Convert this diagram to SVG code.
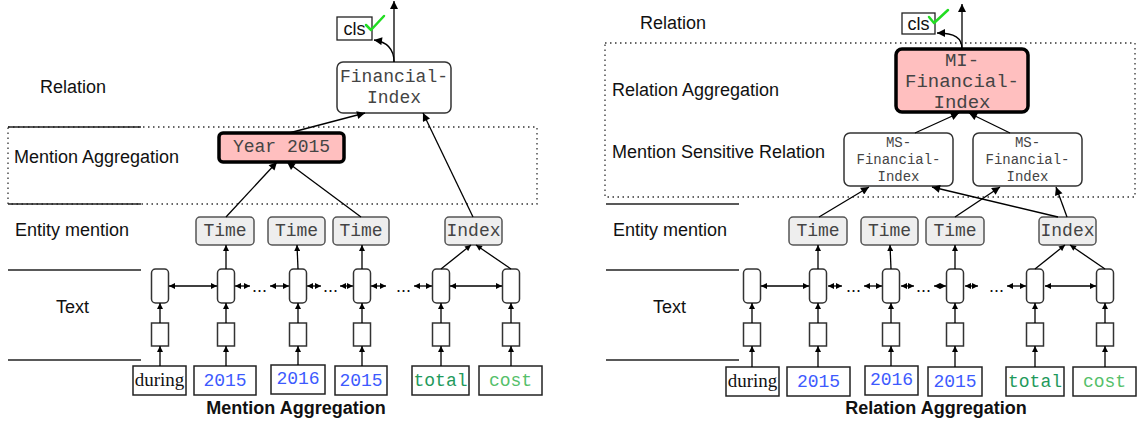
<svg xmlns="http://www.w3.org/2000/svg" width="1138" height="424" viewBox="0 0 1138 424">
<style>
.lbl{font-family:"Liberation Sans",Arial,sans-serif;font-size:18px;fill:#111}
.cap{font-family:"Liberation Sans",Arial,sans-serif;font-size:18px;font-weight:bold;fill:#111;text-anchor:middle}
.mono{font-family:"Liberation Mono","Courier New",monospace;fill:#444;text-anchor:middle}
.m18{font-size:18px}
.m20{font-size:19px}
.m14{font-size:14px}
.during{font-family:"Liberation Serif","Times New Roman",serif;font-size:19px;fill:#111;text-anchor:middle}
.blue{fill:#3d5afe}
.teal{fill:#1f9a5c}
.lg{fill:#55c06a}
.cell{fill:#fff;stroke:#333;stroke-width:1.5}
.word{fill:#fff;stroke:#222;stroke-width:1.5}
.ent{fill:#eee;stroke:#555;stroke-width:1.5}
.rel{fill:#fff;stroke:#333;stroke-width:1.5}
.agg{fill:#ffbfbf;stroke:#000;stroke-width:3.5}
.clsb{fill:#fff;stroke:#222;stroke-width:1.3}
.dotbox{fill:none;stroke:#333;stroke-width:1.3;stroke-dasharray:1.5 3.5}
.sep{stroke:#222;stroke-width:1.3}
.arr{stroke:#000;stroke-width:1.3;fill:none;marker-end:url(#ah)}
.sa{stroke:#000;stroke-width:1.3;fill:none;marker-end:url(#as)}
.da{stroke:#000;stroke-width:1.3;fill:none;marker-start:url(#as);marker-end:url(#as)}
.chk{fill:none;stroke:#22dd22;stroke-width:2.5;stroke-linecap:round;stroke-linejoin:round}
</style>
<defs>
<marker id="ah" viewBox="0 0 10 10" refX="10" refY="5" markerWidth="10" markerHeight="8" markerUnits="userSpaceOnUse" orient="auto-start-reverse"><path d="M0,0 L10,5 L0,10 z" fill="#000"/></marker>
<marker id="as" viewBox="0 0 10 10" refX="10" refY="5" markerWidth="7" markerHeight="6" markerUnits="userSpaceOnUse" orient="auto-start-reverse"><path d="M0,0 L10,5 L0,10 z" fill="#000"/></marker>
</defs>

<!-- ================= LEFT PANEL ================= -->
<g id="left-layers">
<rect class="dotbox" x="8" y="127" width="529" height="77"/>
<line class="sep" x1="8" y1="127" x2="141" y2="127"/>
<line class="sep" x1="8" y1="204" x2="141" y2="204"/>
<line class="sep" x1="8" y1="270" x2="141" y2="270"/>
<line class="sep" x1="8" y1="360" x2="141" y2="360"/>
<text class="lbl" x="40" y="93">Relation</text>
<text class="lbl" x="14" y="163">Mention Aggregation</text>
<text class="lbl" x="15" y="236">Entity mention</text>
<text class="lbl" x="56" y="313">Text</text>
<text class="cap" x="296" y="414">Mention Aggregation</text>
</g>

<g id="L-cls"><rect class="clsb" x="337" y="17" width="35" height="23"/><text class="lbl" x="354.5" y="35" text-anchor="middle">cls</text><polyline class="chk" points="366,25 371,30 384,16"/></g>
<g id="L-financial-index"><rect class="rel" x="337" y="62" width="114" height="51" rx="6"/><text class="mono m18" x="394" y="82">Financial-</text><text class="mono m18" x="394" y="103">Index</text></g>
<g id="L-year2015"><rect class="agg" x="219" y="133" width="125" height="29" rx="4"/><text class="mono m18" x="281.5" y="152">Year 2015</text></g>

<g id="L-time1"><rect class="ent" x="196" y="217" width="58" height="28" rx="4"/><text class="mono m18" x="225" y="236">Time</text></g>
<g id="L-time2"><rect class="ent" x="268" y="217" width="57" height="28" rx="4"/><text class="mono m18" x="296.5" y="236">Time</text></g>
<g id="L-time3"><rect class="ent" x="333" y="217" width="56" height="28" rx="4"/><text class="mono m18" x="361" y="236">Time</text></g>
<g id="L-index"><rect class="ent" x="445" y="217" width="57" height="28" rx="4"/><text class="mono m18" x="473.5" y="236">Index</text></g>

<g id="L-cells">
<rect class="cell" x="151.5" y="269" width="17" height="34" rx="4"/>
<rect class="cell" x="217.5" y="269" width="17" height="34" rx="4"/>
<rect class="cell" x="289.5" y="269" width="17" height="34" rx="4"/>
<rect class="cell" x="353.5" y="269" width="17" height="34" rx="4"/>
<rect class="cell" x="432.5" y="269" width="17" height="34" rx="4"/>
<rect class="cell" x="502.5" y="269" width="17" height="34" rx="4"/>
</g>
<g id="L-emb">
<rect class="cell" x="151.5" y="323" width="17" height="23"/>
<rect class="cell" x="217.5" y="323" width="17" height="23"/>
<rect class="cell" x="289.5" y="323" width="17" height="23"/>
<rect class="cell" x="353.5" y="323" width="17" height="23"/>
<rect class="cell" x="432.5" y="323" width="17" height="23"/>
<rect class="cell" x="502.5" y="323" width="17" height="23"/>
</g>
<g id="L-words">
<rect class="word" x="133" y="366" width="53" height="29"/><text class="during" x="159.5" y="386">during</text>
<rect class="word" x="194" y="366" width="62" height="29"/><text class="mono m18 blue" x="225" y="386">2015</text>
<rect class="word" x="271" y="365" width="54" height="29"/><text class="mono m18 blue" x="298" y="384">2016</text>
<rect class="word" x="335" y="366" width="52" height="29"/><text class="mono m18 blue" x="361" y="386">2015</text>
<rect class="word" x="412" y="366" width="57" height="29"/><text class="mono m18 teal" x="440.5" y="386">total</text>
<rect class="word" x="479" y="366" width="63" height="29"/><text class="mono m18 lg" x="510.5" y="386">cost</text>
</g>
<g id="L-dots" class="lbl">
<text x="252" y="292">...</text><text x="323" y="292">...</text><text x="396" y="292">...</text>
</g>

<g id="L-connectors">
<line class="arr" x1="394" y1="62" x2="394" y2="1"/>
<path class="arr" d="M394,62 C394,49 388,42 374,40"/>
<line class="arr" x1="289" y1="133" x2="365" y2="113"/>
<line class="arr" x1="473" y1="217" x2="423" y2="113"/>
<line class="arr" x1="226" y1="217" x2="277" y2="162"/>
<line class="arr" x1="361" y1="217" x2="287" y2="162"/>
<line class="sa" x1="226" y1="269" x2="226" y2="245"/>
<line class="sa" x1="298" y1="269" x2="297" y2="245"/>
<line class="sa" x1="362" y1="269" x2="362" y2="245"/>
<line class="sa" x1="441" y1="269" x2="471" y2="245"/>
<line class="sa" x1="511" y1="269" x2="476" y2="245"/>
<line class="sa" x1="160" y1="323" x2="160" y2="303"/>
<line class="sa" x1="226" y1="323" x2="226" y2="303"/>
<line class="sa" x1="298" y1="323" x2="298" y2="303"/>
<line class="sa" x1="362" y1="323" x2="362" y2="303"/>
<line class="sa" x1="441" y1="323" x2="441" y2="303"/>
<line class="sa" x1="511" y1="323" x2="511" y2="303"/>
<line class="sa" x1="160" y1="366" x2="160" y2="346"/>
<line class="sa" x1="226" y1="366" x2="226" y2="346"/>
<line class="sa" x1="298" y1="365" x2="298" y2="346"/>
<line class="sa" x1="362" y1="366" x2="362" y2="346"/>
<line class="sa" x1="441" y1="366" x2="441" y2="346"/>
<line class="sa" x1="511" y1="366" x2="511" y2="346"/>
<line class="da" x1="169" y1="286" x2="217" y2="286"/>
<line class="da" x1="235" y1="286" x2="250" y2="286"/>
<line class="da" x1="270" y1="286" x2="289" y2="286"/>
<line class="da" x1="307" y1="286" x2="321" y2="286"/>
<line class="da" x1="340" y1="286" x2="353" y2="286"/>
<line class="da" x1="371" y1="286" x2="386" y2="286"/>
<line class="da" x1="414" y1="286" x2="432" y2="286"/>
<line class="da" x1="450" y1="286" x2="502" y2="286"/>
</g>

<!-- ================= RIGHT PANEL ================= -->
<g id="right-layers">
<rect class="dotbox" x="605" y="43" width="530" height="154"/>
<line class="sep" x1="606" y1="204" x2="739" y2="204"/>
<line class="sep" x1="606" y1="270" x2="739" y2="270"/>
<line class="sep" x1="606" y1="360" x2="739" y2="360"/>
<text class="lbl" x="640" y="29">Relation</text>
<text class="lbl" x="612" y="96">Relation Aggregation</text>
<text class="lbl" x="612" y="158">Mention Sensitive Relation</text>
<text class="lbl" x="613" y="236">Entity mention</text>
<text class="lbl" x="653" y="313">Text</text>
<text class="cap" x="936" y="414">Relation Aggregation</text>
</g>

<g id="R-cls"><rect class="clsb" x="902" y="13" width="33" height="21"/><text class="lbl" x="918.5" y="30" text-anchor="middle">cls</text><polyline class="chk" points="929,17 934,23 948,10"/></g>
<g id="R-mi"><rect class="agg" x="896" y="49" width="132" height="63" rx="6"/><text class="mono m20" x="962" y="66">MI-</text><text class="mono m20" x="962" y="87">Financial-</text><text class="mono m20" x="962" y="108">Index</text></g>
<g id="R-ms1"><rect class="rel" x="844" y="133" width="109" height="53" rx="6"/><text class="mono m14" x="898.5" y="147">MS-</text><text class="mono m14" x="898.5" y="164">Financial-</text><text class="mono m14" x="898.5" y="181">Index</text></g>
<g id="R-ms2"><rect class="rel" x="973" y="133" width="109" height="53" rx="6"/><text class="mono m14" x="1027.5" y="147">MS-</text><text class="mono m14" x="1027.5" y="164">Financial-</text><text class="mono m14" x="1027.5" y="181">Index</text></g>

<g id="R-time1"><rect class="ent" x="789" y="217" width="58" height="28" rx="4"/><text class="mono m18" x="818" y="236">Time</text></g>
<g id="R-time2"><rect class="ent" x="861" y="217" width="57" height="28" rx="4"/><text class="mono m18" x="889.5" y="236">Time</text></g>
<g id="R-time3"><rect class="ent" x="926" y="217" width="58" height="28" rx="4"/><text class="mono m18" x="955" y="236">Time</text></g>
<g id="R-index"><rect class="ent" x="1039" y="217" width="57" height="28" rx="4"/><text class="mono m18" x="1067.5" y="236">Index</text></g>

<g id="R-cells">
<rect class="cell" x="743.5" y="269" width="17" height="34" rx="4"/>
<rect class="cell" x="809.5" y="269" width="17" height="34" rx="4"/>
<rect class="cell" x="882.5" y="269" width="17" height="34" rx="4"/>
<rect class="cell" x="946.5" y="269" width="17" height="34" rx="4"/>
<rect class="cell" x="1026.5" y="269" width="17" height="34" rx="4"/>
<rect class="cell" x="1096.5" y="269" width="17" height="34" rx="4"/>
</g>
<g id="R-emb">
<rect class="cell" x="743.5" y="323" width="17" height="23"/>
<rect class="cell" x="809.5" y="323" width="17" height="23"/>
<rect class="cell" x="882.5" y="323" width="17" height="23"/>
<rect class="cell" x="946.5" y="323" width="17" height="23"/>
<rect class="cell" x="1026.5" y="323" width="17" height="23"/>
<rect class="cell" x="1096.5" y="323" width="17" height="23"/>
</g>
<g id="R-words">
<rect class="word" x="726" y="367" width="53" height="29"/><text class="during" x="752.5" y="387">during</text>
<rect class="word" x="787" y="367" width="63" height="29"/><text class="mono m18 blue" x="818.5" y="387">2015</text>
<rect class="word" x="865" y="366" width="53" height="29"/><text class="mono m18 blue" x="891.5" y="385">2016</text>
<rect class="word" x="928" y="367" width="54" height="29"/><text class="mono m18 blue" x="955" y="387">2015</text>
<rect class="word" x="1006" y="367" width="58" height="29"/><text class="mono m18 teal" x="1035" y="387">total</text>
<rect class="word" x="1073" y="367" width="63" height="29"/><text class="mono m18 lg" x="1104.5" y="387">cost</text>
</g>
<g id="R-dots" class="lbl">
<text x="846" y="292">...</text><text x="916" y="292">...</text><text x="989" y="292">...</text>
</g>

<g id="R-connectors">
<line class="arr" x1="962" y1="49" x2="962" y2="4"/>
<path class="arr" d="M962,49 C962,38 955,33 937,33"/>
<line class="arr" x1="915" y1="133" x2="959" y2="113"/>
<line class="arr" x1="1010" y1="133" x2="969" y2="113"/>
<line class="arr" x1="819" y1="217" x2="869" y2="187"/>
<line class="arr" x1="955" y1="217" x2="1000" y2="187"/>
<line class="arr" x1="1058" y1="217" x2="932" y2="187"/>
<line class="arr" x1="1067" y1="217" x2="1056" y2="187"/>
<line class="sa" x1="818" y1="269" x2="818" y2="245"/>
<line class="sa" x1="891" y1="269" x2="890" y2="245"/>
<line class="sa" x1="955" y1="269" x2="955" y2="245"/>
<line class="sa" x1="1035" y1="269" x2="1065" y2="245"/>
<line class="sa" x1="1105" y1="269" x2="1070" y2="245"/>
<line class="sa" x1="752" y1="323" x2="752" y2="303"/>
<line class="sa" x1="818" y1="323" x2="818" y2="303"/>
<line class="sa" x1="891" y1="323" x2="891" y2="303"/>
<line class="sa" x1="955" y1="323" x2="955" y2="303"/>
<line class="sa" x1="1035" y1="323" x2="1035" y2="303"/>
<line class="sa" x1="1105" y1="323" x2="1105" y2="303"/>
<line class="sa" x1="752" y1="367" x2="752" y2="346"/>
<line class="sa" x1="818" y1="367" x2="818" y2="346"/>
<line class="sa" x1="891" y1="366" x2="891" y2="346"/>
<line class="sa" x1="955" y1="367" x2="955" y2="346"/>
<line class="sa" x1="1035" y1="367" x2="1035" y2="346"/>
<line class="sa" x1="1105" y1="367" x2="1105" y2="346"/>
<line class="da" x1="761" y1="286" x2="809" y2="286"/>
<line class="da" x1="828" y1="286" x2="842" y2="286"/>
<line class="da" x1="864" y1="286" x2="882" y2="286"/>
<line class="da" x1="901" y1="286" x2="914" y2="286"/>
<line class="da" x1="934" y1="286" x2="946" y2="286"/>
<line class="da" x1="965" y1="286" x2="978" y2="286"/>
<line class="da" x1="1007" y1="286" x2="1026" y2="286"/>
<line class="da" x1="1045" y1="286" x2="1096" y2="286"/>
</g>
</svg>
